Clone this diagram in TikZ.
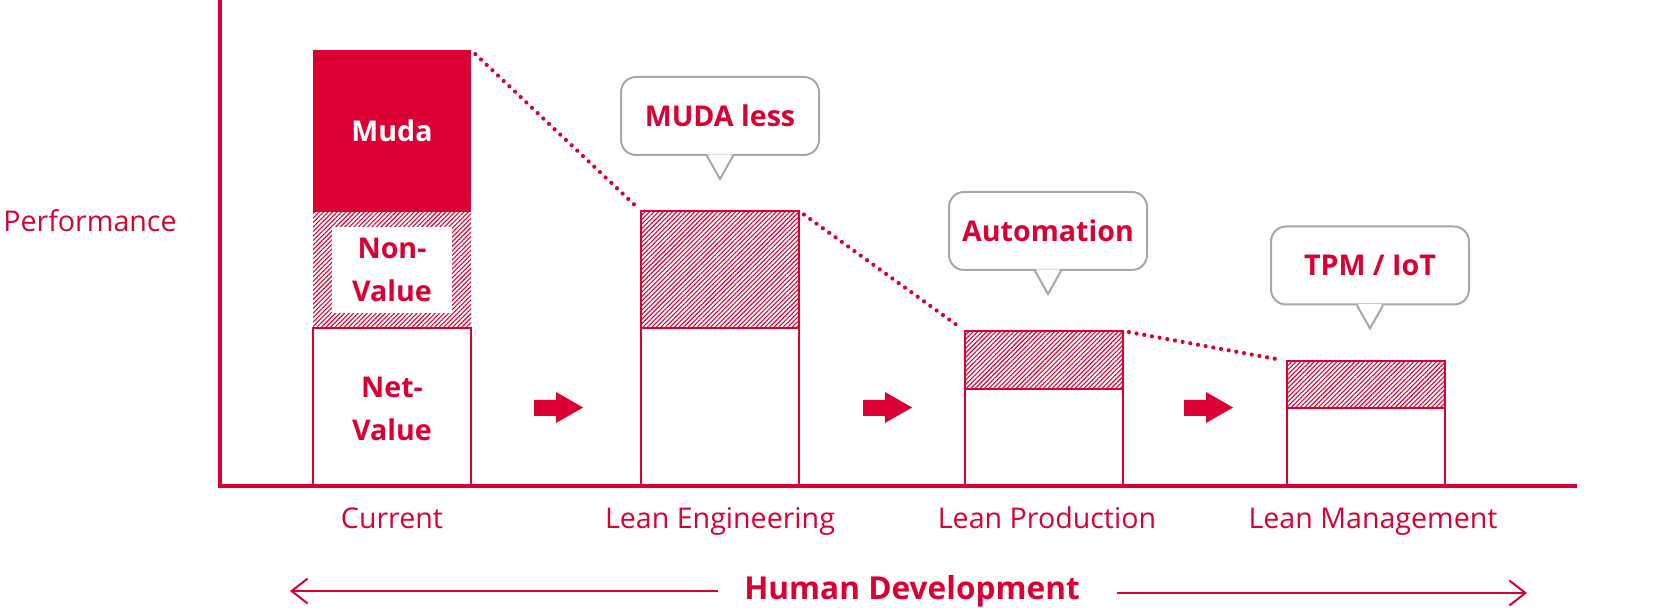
\documentclass[tikz,border=0pt]{standalone}
\usepackage{fontspec}
\setmainfont{Open Sans}
\usetikzlibrary{arrows.meta,patterns.meta}
\definecolor{lgred}{RGB}{218,0,51}
\definecolor{tipgray}{RGB}{168,168,168}
\tikzset{
	txt/.style={font=\fontsize{14.3}{21.5}\selectfont},
	bold/.style={font=\fontsize{14.3}{21.5}\selectfont\bfseries},
	hatch/.style={pattern={Lines[angle=45,distance=1.6pt,line width=0.55pt]},pattern color=lgred},
	barline/.style={draw=lgred,line width=1.1pt},
	bubble/.style={bold,draw=tipgray,line width=1pt,rounded corners=7.5pt,fill=white,text=lgred,
		minimum width=99pt,minimum height=39pt,inner sep=0pt,text height=10.2pt,text depth=0pt},
	dotline/.style={lgred,line width=2.1pt,dash pattern=on 0pt off 3.9pt,line cap=round,shorten <=3pt,shorten >=3pt},
	lbl/.style={txt,text=lgred,inner sep=0pt,anchor=base},
	hdarrow/.style={lgred,line width=1pt,-{Straight Barb[length=8pt,width=12.5pt]}}
}
\begin{document}
\begin{tikzpicture}[x=0.5pt,y=-0.5pt,txt,line join=miter]
			\useasboundingbox (0,0) rectangle (1680,608);
			\def\w{158}
			\def\base{486}
			% axes
			\draw[lgred,line width=1.9pt] (220,0)--(220,\base)--(1577,\base);
			\node[lbl] (perf) at (90,232) {Performance};
			% bar tops
			\foreach \n/\x/\t in {1/313/50,2/641/211,3/965/331,4/1287/361}
			\path (\x,\t) coordinate (T\n) (\x+\w,\t) coordinate (R\n);
			% current
			\fill[lgred] (T1) rectangle (471,212);
			\fill[hatch] (313,212) rectangle (471,328);
			\draw[barline] (313,\base)--(313,328)--(471,328)--(471,\base);
			\node[bold,text=white,inner sep=0pt,anchor=base] (muda) at (392,142) {Muda};
			\node[bold,text=lgred,fill=white,align=center,inner sep=0pt,minimum width=60pt,minimum height=43pt] (nonv) at (392,270) {Non-\\Value};
			\node[bold,text=lgred,align=center,inner sep=0pt] (netv) at (392,408.5) {Net-\\Value};
			% other bars
			\foreach \x/\t/\h in {641/211/328,965/331/389,1287/361/408}{
				\draw[barline,hatch] (\x,\t) rectangle (\x+\w,\h);
				\draw[barline] (\x,\h)--(\x,\base) (\x+\w,\h)--(\x+\w,\base);
			}
			\draw[dotline] (R1)--(T2);
			\draw[dotline] (R2)--(T3);
			\draw[dotline] (R3)--(T4);
			% step arrows
			\foreach \x in {534,863,1184}
			\fill[lgred] (\x,400)--(\x+22,400)--(\x+22,392)--(\x+49,407.5)--(\x+22,423)--(\x+22,416)--(\x,416)--cycle;
			% bubbles
			\foreach \n/\x/\y/\s in {mb/720/116/MUDA less,ab/1048/231/Automation,tb/1370/265.5/{TPM / IoT}}{
				\node[bubble] (\n) at (\x,\y) {\s};
				\fill[white] ([xshift=-6pt,yshift=0.8pt]\n.south)--([yshift=-11.5pt]\n.south)--([xshift=6pt,yshift=0.8pt]\n.south)--cycle;
				\draw[tipgray,line width=1pt] ([xshift=-6.5pt]\n.south)--([yshift=-11.5pt]\n.south)--([xshift=6.5pt]\n.south);
			}
			% stages
			\foreach \n/\x/\s in {c/392/Current,le/720/Lean Engineering,lp/1047/Lean Production,lm/1373/Lean Management}
			\node[lbl] (\n) at (\x,529) {\s};
			\node[lbl,font=\fontsize{15.8}{18}\selectfont\bfseries] (hd) at (912,599) {Human Development};
			\path
			(718,591) coordinate (hl0)
			(290,591) coordinate (hl)
			(1117,593) coordinate (hr0)
			(1527,593) coordinate (hr)
			;
			\draw[hdarrow] (hl0)--(hl);
			\draw[hdarrow] (hr0)--(hr);
\end{tikzpicture}
\end{document}
